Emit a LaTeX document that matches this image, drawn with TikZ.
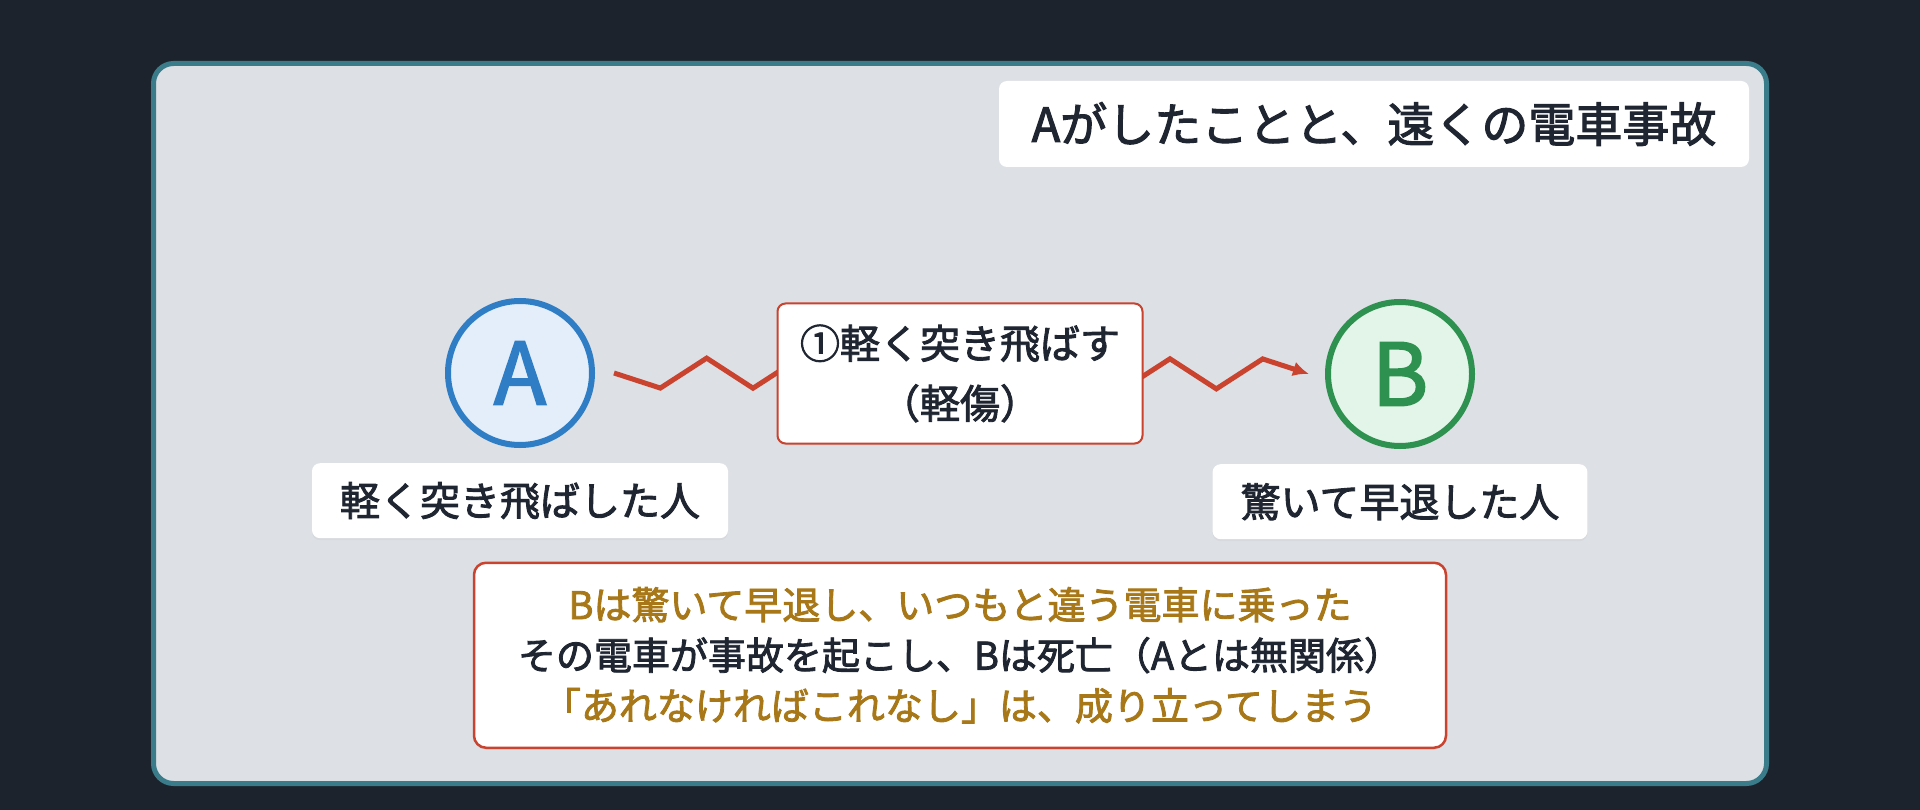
\documentclass[tikz,border=0pt]{standalone}
\usepackage{fontspec}
\setmainfont{Noto Sans CJK JP}[FakeBold=2.2]
\usetikzlibrary{positioning}
\usetikzlibrary{calc}
\usetikzlibrary{arrows.meta}
\usetikzlibrary{shadows}
\definecolor{bgdark}{HTML}{1D232D}
\definecolor{panelrim}{HTML}{3A7C8A}
\definecolor{panelfill}{HTML}{DDE0E5}
\definecolor{inkdark}{HTML}{1F2631}
\definecolor{ablue}{HTML}{2F7EC5}
\definecolor{afill}{HTML}{E4EEFA}
\definecolor{bgreen}{HTML}{2E9150}
\definecolor{bfill}{HTML}{E3F5E8}
\definecolor{hitred}{HTML}{C9432F}
\definecolor{gold}{HTML}{A87818}

\begin{document}
\begin{tikzpicture}[
  x=1pt,y=1pt,
  node distance=15pt,
  softshadow/.style={drop shadow={opacity=0.07,shadow xshift=0pt,shadow yshift=-2pt}},
  pers/.style={draw,circle,line width=6pt,minimum size=144pt,inner sep=0pt,
    font=\fontsize{86pt}{86pt}\selectfont,softshadow},
  tag/.style={fill=white,rounded corners=8pt,minimum height=75pt,inner xsep=28pt,
    text=inkdark,font=\fontsize{40pt}{48pt}\selectfont,softshadow},
  redbox/.style={draw=hitred,fill=white,rounded corners=8pt,align=center,
    text=inkdark,softshadow},
  zigline/.style={draw=hitred,line width=5pt,-{Latex[length=16pt,width=15pt]}}
]

\useasboundingbox (0,0) rectangle (1920,-810);
\fill[bgdark] (0,0) rectangle (1920,-810);
\draw[panelrim,fill=panelfill,line width=5pt,rounded corners=20pt]
  (153.5,-63.5) rectangle (1766.5,-783.5);

\node[pers,draw=ablue,fill=afill,text=ablue] (a) at (520,-373) {A};
\node[pers,draw=bgreen,fill=bfill,text=bgreen] (b) at (1400,-374) {B};
\node[tag,below=of a] (la) {軽く突き飛ばした人};
\node[tag,below=of b] (lb) {驚いて早退した人};

\coordinate (za) at ($(a.east)+(19,0)$);
\coordinate (zb) at ($(b.west)+(-16,0)$);
\draw[zigline] (za)
  \foreach \i in {1,...,14}{ -- ($(za)!\i/15!(zb)+(0,{15*(1-2*mod(\i,2))})$) }
  -- (zb);

\node[redbox,minimum width=365pt,minimum height=140pt,line width=2pt,
  font=\fontsize{40pt}{60pt}\selectfont] (hit) at ($(a)!0.5!(b)$)
  {①軽く突き飛ばす\\（軽傷）};
\node[redbox,minimum width=972pt,minimum height=185pt,line width=2.5pt,
  rounded corners=12pt,font=\fontsize{38pt}{50.5pt}\selectfont,below=117pt of hit] (note)
  {\textcolor{gold}{Bは驚いて早退し、いつもと違う電車に乗った}\\
   その電車が事故を起こし、Bは死亡（Aとは無関係）\\
   \textcolor{gold}{「あれなければこれなし」は、成り立ってしまう}};

\node[fill=white,rounded corners=8pt,minimum width=750pt,minimum height=86pt,
  text=inkdark,font=\fontsize{47pt}{56pt}\selectfont] (title) at (1374,-124)
  {Aがしたことと、遠くの電車事故};

\end{tikzpicture}
\end{document}
